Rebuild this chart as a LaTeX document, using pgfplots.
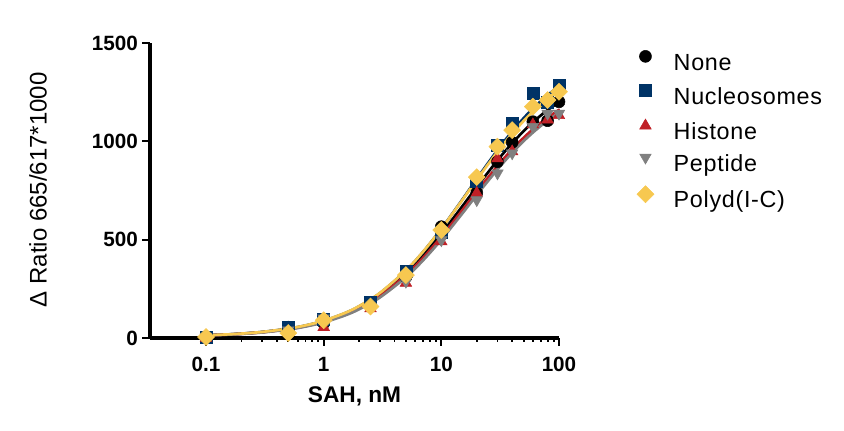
\documentclass[border=0pt]{standalone}
\usepackage{fontspec}
\setmainfont{Liberation Sans}
\newfontfamily\legfont[LetterSpace=3]{Liberation Sans}
\usepackage{pgfplots}
\pgfplotsset{compat=1.18}
\definecolor{cnone}{RGB}{0,0,0}
\definecolor{cnuc}{RGB}{0,51,102}
\definecolor{chis}{RGB}{192,32,38}
\definecolor{cpep}{RGB}{128,128,128}
\definecolor{cpol}{RGB}{247,200,80}
\begin{document}
\begin{tikzpicture}
\path[use as bounding box] (0,0) rectangle (633pt,323.25pt);
\begin{axis}[
  at={(112.5pt,69.75pt)}, anchor=south west,
  scale only axis, width=306.75pt, height=221.25pt,
  xmode=log, xmin=0.0334, xmax=100, ymin=0, ymax=1500,
  axis x line*=bottom, axis y line*=left,
  x axis line style={-, line width=2.3pt},
  y axis line style={-, line width=2.3pt},
  clip=false,
  xtick={0.1,1,10,100}, xticklabels={0.1,1,10,100},
  ytick={0,500,1000,1500}, yticklabels={0,500,1000,1500},
  yminorticks=false,
  tick align=outside,
  major tick length=6pt, minor tick length=3pt,
  every tick/.style={black, line width=1.6pt},
  minor tick style={line width=1.4pt},
  /pgf/number format/assume math mode=true,
  ticklabel style={font=\fontsize{15.5}{18}\selectfont\bfseries},
  xticklabel style={anchor=base, inner sep=0pt, yshift=-19pt},
  yticklabel style={anchor=east, inner sep=0pt, xshift=-3pt},
  xlabel={SAH, nM},
  ylabel={Δ Ratio 665/617*1000},
  xlabel style={font=\fontsize{17}{20}\selectfont\bfseries, at={(axis description cs:0.5,-0.2203)}, anchor=base, inner sep=0pt},
  ylabel style={font=\fontsize{18}{20}\selectfont, at={(axis description cs:-0.2526,0.502)}, anchor=base, inner sep=0pt},
  legend cell align=left,
  legend style={at={(1.1907,0.975)}, anchor=north west, draw=none, fill=none,
    inner sep=0pt, outer sep=0pt, row sep=7pt,
    font=\legfont\fontsize{17.5}{20}\selectfont,
    nodes={inner sep=0pt, text height=12.5pt, text depth=4pt}},
  legend image code/.code={\draw[#1] plot coordinates {(0pt,6pt)}; \draw[opacity=0] (0pt,6pt) -- (21pt,6pt);},
]
% data points
\addplot[only marks, mark=*, mark size=4.5pt, draw=cnone, fill=cnone] coordinates {
(0.1,5) (0.5,55) (1,75) (2.5,170) (5,310) (10,566) (20,738) (30,896) (40,995) (60,1100) (80,1105) (100,1201)};
\addlegendentry{None}
\addplot[only marks, mark=square*, mark size=4.5pt, draw=cnuc, fill=cnuc] coordinates {
(0.1,5) (0.5,57) (1,95) (2.5,180) (5,337) (10,540) (20,795) (30,981) (40,1091) (60,1244) (80,1200) (100,1286)};
\addlegendentry{Nucleosomes}
\addplot[only marks, mark=triangle*, mark size=5pt, draw=chis, fill=chis] coordinates {
(0.1,0) (0.5,32) (1,55) (2.5,150) (5,280) (10,490) (20,737) (30,912) (40,948) (60,1085) (80,1110) (100,1132)};
\addlegendentry{Histone}
\addplot[only marks, mark=triangle*, mark size=5pt, mark options={rotate=180}, draw=cpep, fill=cpep] coordinates {
(0.1,5) (0.5,40) (1,100) (2.5,155) (5,287) (10,498) (20,702) (30,838) (40,940) (60,1074) (80,1142) (100,1142)};
\addlegendentry{Peptide}
\addplot[only marks, mark=square*, mark size=4.5pt, mark options={rotate=45}, draw=cpol, fill=cpol] coordinates {
(0.1,5) (0.5,25) (1,90) (2.5,160) (5,320) (10,549) (20,818) (30,973) (40,1057) (60,1176) (80,1210) (100,1252)};
\addlegendentry{Polyd(I-C)}
% fitted curves
\addplot[forget plot, no marks, smooth, cnone, line width=2pt] coordinates {
(0.1,13.4) (0.15,17.5) (0.2,21.7) (0.3,29.9) (0.5,45.9) (0.7,61.7) (1,84.5) (1.5,121) (2,155.5) (3,219.2) (5,328.7) (7,419.6) (10,530.3) (15,667.9) (20,767.7) (30,903.1) (40,990.5) (50,1051.6) (60,1096.8) (70,1131.5) (80,1159.0) (100,1199.8)};
\addplot[forget plot, no marks, smooth, cnuc, line width=2pt] coordinates {
(0.1,13.7) (0.15,17.9) (0.2,22.2) (0.3,30.7) (0.5,47.3) (0.7,63.6) (1,87.3) (1.5,125.1) (2,160.9) (3,227.3) (5,342.1) (7,437.9) (10,555.1) (15,701.8) (20,809.1) (30,955.4) (40,1050.5) (50,1117.3) (60,1166.7) (70,1204.9) (80,1235.1) (100,1280.2)};
\addplot[forget plot, no marks, smooth, chis, line width=2pt] coordinates {
(0.1,13.2) (0.15,17.2) (0.2,21.2) (0.3,29.2) (0.5,44.9) (0.7,60.2) (1,82.5) (1.5,117.9) (2,151.5) (3,213.4) (5,319.8) (7,407.9) (10,515.1) (15,648.1) (20,744.5) (30,874.9) (40,959.0) (50,1017.8) (60,1061.2) (70,1094.5) (80,1120.9) (100,1160.1)};
\addplot[forget plot, no marks, smooth, cpep, line width=2pt] coordinates {
(0.1,12.8) (0.15,16.7) (0.2,20.6) (0.3,28.2) (0.5,43.2) (0.7,57.9) (1,79.3) (1.5,113.5) (2,145.8) (3,205.7) (5,308.9) (7,394.9) (10,500.0) (15,631.2) (20,726.9) (30,857.1) (40,941.6) (50,1000.8) (60,1044.6) (70,1078.4) (80,1105.2) (100,1145.0)};
\addplot[forget plot, no marks, smooth, cpol, line width=2pt] coordinates {
(0.1,13.8) (0.15,18.1) (0.2,22.4) (0.3,31.0) (0.5,47.8) (0.7,64.2) (1,88.1) (1.5,126.2) (2,162.3) (3,228.9) (5,343.7) (7,438.9) (10,555.0) (15,699.5) (20,804.5) (30,946.8) (40,1038.9) (50,1103.3) (60,1150.9) (70,1187.6) (80,1216.6) (100,1259.7)};
\end{axis}
\end{tikzpicture}
\end{document}
